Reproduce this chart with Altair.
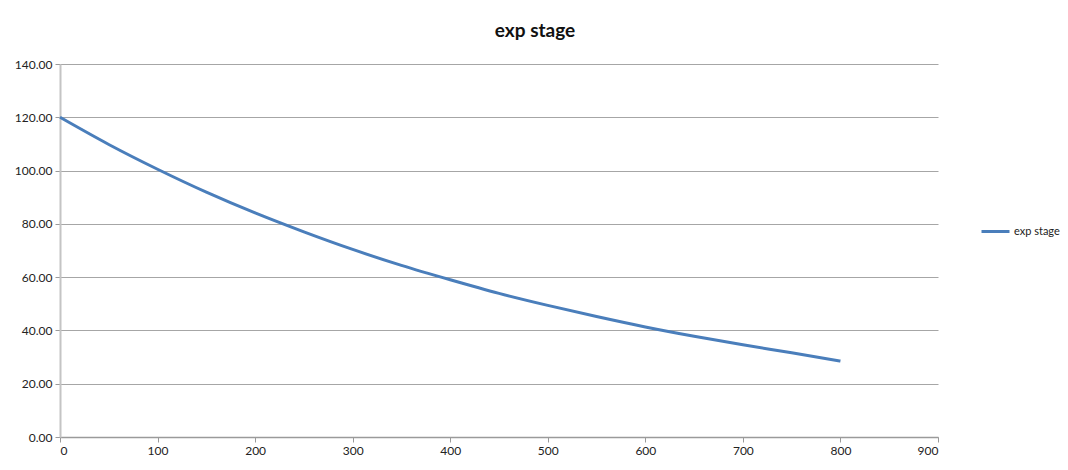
import altair as alt
import pandas as pd

x_vals = [0, 50, 100, 150, 200, 250, 300, 350, 400, 450, 500, 550, 600, 650, 700, 750, 800]
y_vals = [120.0, 109.8, 100.5, 91.9, 84.1, 77.0, 70.4, 64.4, 59.0, 53.9, 49.4, 45.2, 41.3, 37.8, 34.6, 31.6, 28.5]
series_name = "exp stage"
title_text = "exp stage"

df = pd.DataFrame({"x": x_vals, "y": y_vals, "series": [series_name] * len(x_vals)})

FONT = "Lato"

chart = alt.Chart(df).mark_line(strokeWidth=3, interpolate="monotone").encode(
    x=alt.X("x:Q", scale=alt.Scale(domain=[0, 900], nice=False, zero=True),
            axis=alt.Axis(values=list(range(0, 901, 100)), title=None, grid=False,
                          domainColor="#9a9a9a", domainWidth=1.5, tickColor="#9a9a9a",
                          tickSize=5, labelPadding=3, labelFontSize=12, labelFont=FONT,
                          labelColor="#222222")),
    y=alt.Y("y:Q", scale=alt.Scale(domain=[0, 140], nice=False),
            axis=alt.Axis(values=list(range(0, 141, 20)), format=".2f", title=None,
                          grid=True, gridColor="#a6a6a6", gridWidth=1,
                          domainColor="#c4c4c4", domainWidth=2, tickColor="#9a9a9a",
                          tickSize=5, labelPadding=3, labelFontSize=12, labelFont=FONT,
                          labelColor="#222222")),
    color=alt.Color("series:N", scale=alt.Scale(range=["#4a7ebb"]),
                    legend=alt.Legend(title=None, orient="none", legendX=920, legendY=152,
                                      symbolType="stroke", symbolStrokeWidth=3, symbolSize=784,
                                      labelFontSize=11, labelFont=FONT, labelColor="#222222",
                                      labelOffset=3)),
).properties(
    width=878,
    height=373,
    title=alt.TitleParams(title_text, fontSize=19, font=FONT, fontWeight="bold",
                          color="#111111", anchor="middle", dx=36, offset=17),
    autosize=alt.AutoSizeParams(type="none"),
    padding={"left": 52, "top": 56, "right": 122, "bottom": 25},
).configure_view(stroke=None)

chart.save("out.html", embed_options={"renderer": "svg", "actions": False})
